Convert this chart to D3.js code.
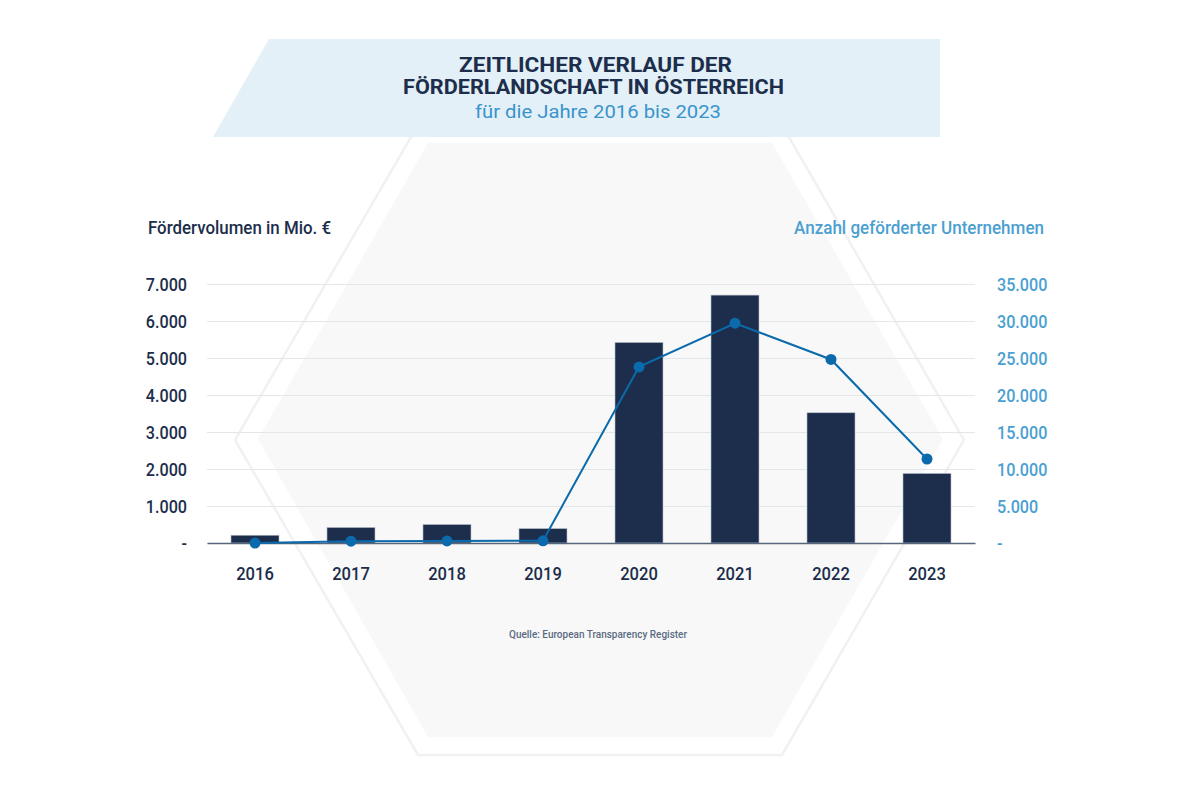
<!DOCTYPE html>
<html>
<head>
<meta charset="utf-8">
<script src="https://cdn.jsdelivr.net/npm/d3@7"></script>
<style>
  html, body { margin: 0; padding: 0; background: #ffffff; }
  svg { display: block; font-family: Roboto, "Open Sans", sans-serif; }
</style>
</head>
<body>
<svg id="chart" width="1200" height="800"></svg>
<script>
// ---- data ----
const years = ["2016", "2017", "2018", "2019", "2020", "2021", "2022", "2023"];
const volume = [210, 420, 500, 390, 5420, 6700, 3520, 1880];          // Fördervolumen in Mio. €
const companies = [0, 250, 280, 300, 23800, 29700, 24800, 11350];     // Anzahl geförderter Unternehmen
const leftTicks = [0, 1000, 2000, 3000, 4000, 5000, 6000, 7000];
const rightTicks = [0, 5000, 10000, 15000, 20000, 25000, 30000, 35000];
const titleLines = ["ZEITLICHER VERLAUF DER", "FÖRDERLANDSCHAFT IN ÖSTERREICH"];
const subtitle = "für die Jahre 2016 bis 2023";
const leftTitle = "Fördervolumen in Mio. €";
const rightTitle = "Anzahl geförderter Unternehmen";
const source = "Quelle: European Transparency Register";

const svg = d3.select("#chart");
const fmt = v => v === 0 ? "-" : d3.format(",")(v).replace(/,/g, ".");

function fit(sel, w) {
  sel.attr("textLength", w).attr("lengthAdjust", "spacingAndGlyphs");
}
function condense(sel, f) {
  sel.each(function () {
    const l = this.getComputedTextLength();
    d3.select(this).attr("textLength", l * f).attr("lengthAdjust", "spacingAndGlyphs");
  });
}

// ---- background hexagons ----
const line = d3.line();
svg.append("path")
  .attr("d", line([[418,125],[782,125],[964,440],[782,755],[418,755],[235,440]]) + "Z")
  .attr("fill", "#ffffff").attr("stroke", "#f1f1f1").attr("stroke-width", 2.5);
svg.append("path")
  .attr("d", line([[428,143],[772,143],[943,439],[772,737],[428,737],[258,439]]) + "Z")
  .attr("fill", "#f8f8f8");

// ---- banner ----
svg.append("path")
  .attr("d", line([[269,39],[940,39],[940,137],[213,137]]) + "Z")
  .attr("fill", "#e3f0f7");

svg.append("text").text(titleLines[0])
  .attr("x", 595.5).attr("y", 72).attr("text-anchor", "middle")
  .attr("font-size", 20).attr("font-weight", 700).attr("fill", "#1c2e4b")
  .call(fit, 273);
svg.append("text").text(titleLines[1])
  .attr("x", 593.5).attr("y", 94).attr("text-anchor", "middle")
  .attr("font-size", 20).attr("font-weight", 700).attr("fill", "#1c2e4b")
  .call(fit, 381);
svg.append("text").text(subtitle)
  .attr("x", 598).attr("y", 118).attr("text-anchor", "middle")
  .attr("font-size", 18).attr("font-weight", 400).attr("fill", "#3a94cc")
  .call(fit, 246);

// ---- scales ----
const x = d3.scaleBand().domain(years).range([207, 975]).paddingInner(0.5).paddingOuter(0.25);
const yL = d3.scaleLinear().domain([0, 7000]).range([543, 284]);
const yR = d3.scaleLinear().domain([0, 35000]).range([543, 284]);

// ---- grid ----
svg.append("g")
  .attr("transform", "translate(207,0)")
  .call(d3.axisLeft(yL).tickValues(leftTicks).tickSize(-768).tickFormat(""))
  .call(g => g.select(".domain").remove())
  .call(g => g.selectAll(".tick line").attr("stroke", "#e3e7ea").attr("stroke-width", 1));

// ---- left axis labels ----
svg.append("g")
  .attr("transform", "translate(207,0)")
  .call(d3.axisLeft(yL).tickValues(leftTicks).tickSize(0).tickPadding(20).tickFormat(fmt))
  .call(g => g.select(".domain").remove())
  .call(g => g.selectAll(".tick text")
    .attr("font-family", "Roboto, sans-serif").attr("font-size", 19).attr("font-weight", 500)
    .attr("fill", "#1c2e4b").call(condense, 0.85));

// ---- right axis labels ----
svg.append("g")
  .attr("transform", "translate(975,0)")
  .call(d3.axisRight(yR).tickValues(rightTicks).tickSize(0).tickPadding(22).tickFormat(fmt))
  .call(g => g.select(".domain").remove())
  .call(g => g.selectAll(".tick text")
    .attr("font-family", "Roboto, sans-serif").attr("font-size", 19).attr("font-weight", 500)
    .attr("fill", "#4b9fd1").call(condense, 0.85));

// ---- bars ----
svg.append("g").selectAll("rect").data(years).join("rect")
  .attr("x", d => x(d))
  .attr("width", x.bandwidth())
  .attr("y", (d, i) => yL(volume[i]))
  .attr("height", (d, i) => yL(0) - yL(volume[i]))
  .attr("fill", "#1c2e4b")
  .attr("stroke", "#b9c0ca").attr("stroke-width", 0.6);

// ---- bottom axis ----
svg.append("g")
  .attr("transform", "translate(0,543)")
  .call(d3.axisBottom(x).tickSize(0).tickPadding(24))
  .call(g => g.select(".domain").attr("stroke", "#56677d").attr("stroke-width", 1.5))
  .call(g => g.selectAll(".tick text")
    .attr("font-family", "Roboto, sans-serif").attr("font-size", 19).attr("font-weight", 500)
    .attr("fill", "#1c2e4b").call(condense, 0.87));

// ---- line ----
const cx = d => x(d) + x.bandwidth() / 2;
svg.append("path")
  .datum(years)
  .attr("fill", "none").attr("stroke", "#0b6aac").attr("stroke-width", 2)
  .attr("d", d3.line().x(d => cx(d)).y((d, i) => yR(companies[i])));
svg.append("g").selectAll("circle").data(years).join("circle")
  .attr("cx", d => cx(d))
  .attr("cy", (d, i) => yR(companies[i]))
  .attr("r", 5.5).attr("fill", "#0b6aac");

// ---- axis titles ----
svg.append("text").text(leftTitle)
  .attr("x", 148).attr("y", 234)
  .attr("font-size", 18).attr("font-weight", 500).attr("fill", "#1c2e4b")
  .call(fit, 183);
svg.append("text").text(rightTitle)
  .attr("x", 1044).attr("y", 234).attr("text-anchor", "end")
  .attr("font-size", 18).attr("font-weight", 500).attr("fill", "#4b9fd1")
  .call(fit, 250);

// ---- source ----
svg.append("text").text(source)
  .attr("x", 598).attr("y", 638).attr("text-anchor", "middle")
  .attr("font-size", 11).attr("font-weight", 500).attr("fill", "#5b6b82")
  .call(fit, 178);
</script>
</body>
</html>
